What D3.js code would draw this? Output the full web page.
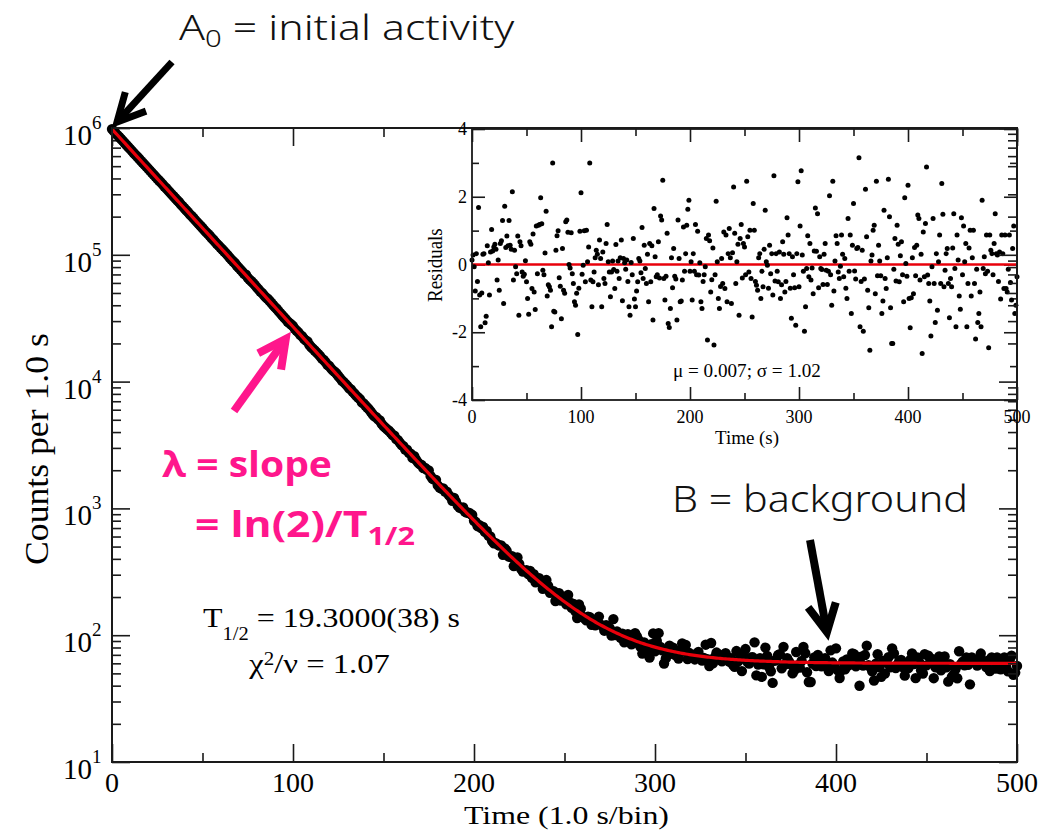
<!DOCTYPE html>
<html><head><meta charset="utf-8">
<script src="https://cdn.jsdelivr.net/npm/d3@7"></script>
<style>body{margin:0;background:#fff}svg{display:block}text{white-space:pre}</style>
</head><body>
<svg id="c" width="1054" height="830"></svg>
<script>
// ---------------- data ----------------
// normalised residuals (data - fit)/sigma, one per 1.0 s bin, t = 0..500
const residuals = [
0.13,0.28,-0.07,-0.78,0.32,-0.5,1.68,-0.9,-1.84,-0.84,
0.3,0.32,-1.72,-1.53,0.55,0.05,-0.9,0.37,1.03,0.4,
0.52,0.6,0.45,-0.46,0.13,-0.76,0.62,0.7,1.3,-1.15,
1.72,0.5,0.84,0.55,1.3,0.57,0.45,2.15,-0.46,0.42,
-0.07,-0.27,0.84,-1.5,0.67,0.55,-0.22,-0.35,-0.29,0.11,
-0.51,-1.0,-1.47,0.67,0.6,-0.71,0.9,-0.81,-1.33,1.14,
-0.27,1.16,1.18,1.97,1.2,-0.17,-0.3,0.34,1.57,-0.93,
-0.6,-0.66,-0.76,-1.84,3.0,-1.38,-1.4,0.42,0.85,1.0,
-0.39,-0.64,-1.6,0.47,-0.76,-0.85,1.26,1.31,0.95,0.0,
-0.1,0.94,-0.27,-0.56,-1.1,-1.2,-0.85,-2.07,-0.7,0.98,
2.12,-0.29,-0.02,1.0,-0.51,1.01,0.08,0.52,3.0,-0.46,
-1.25,-0.51,-0.22,0.2,0.42,0.3,-0.6,0.72,0.18,-1.25,
0.37,-0.41,-0.56,0.62,1.18,0.08,-0.22,-0.95,-0.22,0.1,
-0.15,-0.71,0.59,-0.2,0.1,-0.41,0.2,0.72,-1.07,0.18,
0.05,-0.14,0.13,-0.5,-1.25,-1.5,0.06,-0.3,0.77,-1.02,
-1.25,-0.78,-0.51,0.18,0.1,-0.24,1.09,-0.41,0.57,-0.12,
-0.56,0.3,-1.1,0.62,-0.51,0.55,-1.64,1.65,0.23,-0.36,
-0.3,0.67,-0.4,1.43,1.31,2.49,-0.41,-1.05,-0.35,0.92,
-1.74,-1.86,-1.3,0.2,-0.69,0.47,-0.35,-0.43,-1.64,1.31,
0.18,-1.1,-1.08,-0.46,1.11,-0.2,0.32,1.16,1.63,1.9,
-0.2,0.08,-1.05,0.32,-0.2,1.18,-0.3,0.98,-0.31,0.05,
-1.1,-1.3,-0.5,-0.3,-0.07,0.77,-2.23,0.87,0.7,-0.81,
-0.45,0.49,-2.38,-0.3,1.87,0.08,-1.0,-1.3,-0.65,0.18,
-0.56,0.96,-0.71,0.87,-1.1,0.32,1.06,0.2,-1.15,0.35,
2.29,0.92,-0.56,0.08,0.6,-1.5,0.77,1.18,-0.4,0.62,
0.52,-0.3,2.46,0.82,-0.22,1.01,-0.41,-1.55,1.8,1.01,
-0.5,-0.61,-0.76,0.2,0.32,-1.0,-0.2,-0.66,0.45,1.6,
0.08,-0.02,-0.7,0.57,-0.27,0.32,-0.9,2.62,-0.49,0.32,
-0.2,-0.51,0.37,-1.0,-0.6,0.67,0.3,-0.81,-0.5,1.38,
0.87,0.32,-0.7,-1.59,0.23,-0.3,-0.69,-1.79,0.32,2.44,
-0.66,1.14,2.77,0.28,-0.2,-1.97,-1.25,-0.12,0.85,-0.36,
0.62,-0.46,-0.1,-0.86,0.4,1.67,0.39,1.5,-0.69,0.23,
-0.12,-0.15,-0.59,0.3,0.62,-0.17,-0.59,-0.2,2.03,-0.3,
-1.2,2.46,-0.78,0.1,0.85,0.62,-0.22,-0.41,-0.05,0.87,
0.3,-0.36,0.18,-0.7,-1.0,1.36,-0.2,0.87,-1.45,0.57,
1.8,-0.19,-0.43,0.47,0.5,3.15,-1.84,-0.5,0.42,-1.97,
-0.43,2.22,0.82,-0.76,-1.28,-2.53,0.1,0.28,1.01,1.16,
-0.86,2.46,-0.33,0.57,0.1,-0.33,-1.45,-1.08,1.6,-0.41,
-0.71,0.2,2.52,1.41,-1.28,-2.33,-2.33,-0.14,0.77,-0.49,
1.16,0.6,-0.51,0.26,0.67,-0.3,-1.1,1.97,0.03,-0.35,
2.34,-1.0,-1.87,-0.98,0.2,-0.86,0.5,-0.33,0.57,1.46,
1.36,-0.46,0.3,-2.63,0.96,-0.36,1.21,2.88,-0.31,-0.56,
-1.08,-2.11,-0.07,1.36,-0.56,-1.71,0.32,-1.35,0.08,0.87,
-0.56,2.39,1.48,-0.66,-0.17,0.32,0.47,-0.56,-1.57,-0.41,
-0.66,0.49,1.5,-0.12,-1.84,0.87,0.13,-0.93,-1.32,1.38,
-0.3,1.14,0.08,0.62,-1.84,-0.56,0.49,1.01,-0.93,0.2,
1.01,-0.56,-2.2,-0.14,-1.71,-1.45,-0.81,-1.84,1.9,-0.12,
0.23,-0.27,0.87,-0.2,-2.46,0.87,0.42,0.32,-0.3,0.62,
1.5,0.32,0.28,-0.5,0.37,-1.02,0.87,0.32,-0.71,0.87,
-0.71,-0.81,-0.14,0.87,-0.53,-1.05,0.47,1.14,-1.45,-1.2,-0.36
];
const binTimes = residuals.map((_, i) => i);          // 1.0 s bins
// fit parameters shown on the chart
const fitA0 = 9.8e5;          // initial activity
const fitHalfLife = 19.3;     // s
const fitBackground = 60;     // counts / bin
// axis ticks
const xMajorTicks = [0,100,200,300,400,500];
const xMinorTicks = [50,150,250,350,450];
const yDecadeExponents = [1,2,3,4,5,6];
const yMinorMultipliers = [2,3,4,5,6,7,8,9];
const insetXMajor = [0,100,200,300,400,500];
const insetXMinor = [50,150,250,350,450];
const insetYMajor = [-4,-2,0,2,4];
const insetYMinor = [-3,-1,1,3];

// ---------------- derived series ----------------
const lambda = Math.LN2 / fitHalfLife;
const fitAt = t => fitA0 * Math.exp(-lambda * t) + fitBackground;
const counts = binTimes.map((t, i) => fitAt(t) + residuals[i] * Math.sqrt(fitAt(t)));

// ---------------- scales ----------------
const svg = d3.select('#c');
const serif = '"Liberation Serif","Times New Roman",serif';
const sans = '"Noto Sans",sans-serif';
const x = d3.scaleLinear().domain([0,500]).range([112,1017]);
const y = d3.scaleLog().domain([10,1e6]).range([762,128]);
const xi = d3.scaleLinear().domain([0,500]).range([472,1017]);
const yi = d3.scaleLinear().domain([-4,4]).range([400,129]);
const INK = '#1a1a1a';

const yDecades = yDecadeExponents.map(e => Math.pow(10, e));
const yMinor = [];
yDecadeExponents.slice(0, -1).forEach(e => yMinorMultipliers.forEach(m => yMinor.push(m * Math.pow(10, e))));

function tickAxis(axisFn, scale, values, size, tx, ty) {
  const g = svg.append('g').attr('transform', `translate(${tx},${ty})`)
    .call(axisFn(scale).tickValues(values).tickSize(size).tickFormat(''));
  g.select('.domain').remove();
  g.selectAll('.tick line').attr('stroke', INK).attr('stroke-width', 1.6);
  return g;
}

// main ticks (bottom, top, left)
tickAxis(d3.axisBottom, x, xMajorTicks, -18, 0, 762);
tickAxis(d3.axisBottom, x, xMinorTicks, -9, 0, 762);
tickAxis(d3.axisTop, x, xMajorTicks, -18, 0, 128);
tickAxis(d3.axisTop, x, xMinorTicks, -9, 0, 128);
tickAxis(d3.axisLeft, y, yDecades, -18, 112, 0);
tickAxis(d3.axisLeft, y, yMinor, -9, 112, 0);

// main data
svg.append('g').selectAll('circle').data(binTimes).join('circle')
  .attr('cx', t => x(t)).attr('cy', (t, i) => y(counts[i])).attr('r', 5.2).attr('fill', '#000');
svg.append('path').datum(binTimes)
  .attr('d', d3.line().x(t => x(t)).y(t => y(fitAt(t))))
  .attr('fill', 'none').attr('stroke', '#e8000b').attr('stroke-width', 3.2);

// ---------------- inset ----------------
svg.append('rect').attr('x', xi(0)).attr('y', yi(4)).attr('width', xi(500) - xi(0)).attr('height', yi(-4) - yi(4)).attr('fill', '#fff');
tickAxis(d3.axisBottom, xi, insetXMajor, -13, 0, yi(-4));
tickAxis(d3.axisBottom, xi, insetXMinor, -7, 0, yi(-4));
tickAxis(d3.axisTop, xi, insetXMajor, -13, 0, yi(4));
tickAxis(d3.axisTop, xi, insetXMinor, -7, 0, yi(4));
tickAxis(d3.axisLeft, yi, insetYMajor, -13, xi(0), 0);
tickAxis(d3.axisLeft, yi, insetYMinor, -7, xi(0), 0);
tickAxis(d3.axisRight, yi, insetYMajor, -13, xi(500), 0);
tickAxis(d3.axisRight, yi, insetYMinor, -7, xi(500), 0);
svg.append('path').datum([0, 500])
  .attr('d', d3.line().x(t => xi(t)).y(() => yi(0)))
  .attr('stroke', '#e8000b').attr('stroke-width', 2.6);
svg.append('g').selectAll('circle').data(binTimes).join('circle')
  .attr('cx', t => xi(t)).attr('cy', (t, i) => yi(residuals[i])).attr('r', 2.5).attr('fill', '#000');
svg.append('rect').attr('x', xi(0)).attr('y', yi(4)).attr('width', xi(500) - xi(0)).attr('height', yi(-4) - yi(4))
  .attr('fill', 'none').attr('stroke', INK).attr('stroke-width', 1.8);

// main right ticks and frame on top
tickAxis(d3.axisRight, y, yDecades, -18, 1017, 0);
tickAxis(d3.axisRight, y, yMinor, -9, 1017, 0);
svg.append('rect').attr('x', 112).attr('y', 128).attr('width', 1017 - 112).attr('height', 762 - 128)
  .attr('fill', 'none').attr('stroke', INK).attr('stroke-width', 2);

// ---------------- labels ----------------
svg.append('g').selectAll('text').data(xMajorTicks).join('text')
  .attr('x', d => x(d)).attr('y', 792).attr('text-anchor', 'middle')
  .attr('font-family', serif).attr('font-size', 28).attr('fill', '#000').text(d => d);
const yl = svg.append('g').selectAll('text').data(yDecadeExponents).join('text')
  .attr('x', 63).attr('y', e => y(Math.pow(10, e)) + 17)
  .attr('font-family', serif).attr('fill', '#000');
yl.append('tspan').attr('font-size', 29).text('10');
yl.append('tspan').attr('font-size', 19).attr('dy', -16).text(e => e);

svg.append('g').selectAll('text').data(insetXMajor).join('text')
  .attr('x', d => xi(d)).attr('y', 423).attr('text-anchor', 'middle')
  .attr('font-family', serif).attr('font-size', 18).attr('fill', '#000').text(d => d);
svg.append('g').selectAll('text').data(insetYMajor).join('text')
  .attr('x', 467).attr('y', d => yi(d) + 6).attr('text-anchor', 'end')
  .attr('font-family', serif).attr('font-size', 18).attr('fill', '#000').text(d => d);

// helper: put text so its inked width spans [x0, x0+w] on baseline y0
function fitText(sel, x0, y0, w, rotate) {
  const bb = sel.node().getBBox();
  const s = w / bb.width;
  if (rotate) sel.attr('transform', `translate(${x0},${y0}) rotate(-90) translate(${-bb.x * s},0) scale(${s},1)`);
  else sel.attr('transform', `translate(${x0 - bb.x * s},${y0}) scale(${s},1)`);
}
function addText(font, size, color, weight) {
  return svg.append('text').attr('font-family', font).attr('font-size', size)
    .attr('fill', color).attr('font-weight', weight || 'normal');
}

let t;
t = addText(serif, 26, '#000'); t.text('Time (1.0 s/bin)'); fitText(t, 464, 824, 205);
t = addText(serif, 33, '#000'); t.text('Counts per 1.0 s'); fitText(t, 48, 565, 232, true);
t = addText(serif, 20, '#000'); t.text('Residuals'); fitText(t, 442, 302, 74, true);
t = addText(serif, 18, '#000'); t.text('Time (s)'); fitText(t, 715, 444, 64);
t = addText(serif, 18, '#000'); t.text('\u03bc = 0.007; \u03c3 = 1.02'); fitText(t, 673, 377, 148);

t = addText(serif, 28, '#000');
t.append('tspan').text('T');
t.append('tspan').attr('font-size', 18).attr('dy', 13).text('1/2');
t.append('tspan').attr('dy', -13).text(' = 19.3000(38) s');
fitText(t, 203, 627, 257);

t = addText(serif, 28, '#000');
t.append('tspan').text('\u03c7');
t.append('tspan').attr('font-size', 18).attr('dy', -8).text('2');
t.append('tspan').attr('dy', 8).text('/\u03bd = 1.07');
fitText(t, 248, 673, 142);

// annotations
t = addText(sans, 35, '#111', 300);
t.append('tspan').text('A');
t.append('tspan').attr('font-size', 24).attr('dy', 7).text('0');
t.append('tspan').attr('dy', -7).text(' = initial activity');
fitText(t, 179, 40, 336);

t = addText(sans, 36, '#111', 300); t.text('B = background'); fitText(t, 672, 512, 296);

const PINK = '#ff168c';
t = addText('"Open Sans",sans-serif', 35, PINK, 700); t.text('\u03bb = slope'); fitText(t, 162, 477, 170);
t = addText('"Open Sans",sans-serif', 35, PINK, 700);
t.append('tspan').text('= ln(2)/T');
t.append('tspan').attr('font-size', 25).attr('dy', 8).text('1/2');
fitText(t, 195, 537, 220);

function arrow(tail, tip, color, width) {
  const dx = tail[0] - tip[0], dy = tail[1] - tip[1];
  const L = Math.hypot(dx, dy), ux = dx / L, uy = dy / L;
  const a = 27 * Math.PI / 180, wl = 31;
  const rot = (ang) => [tip[0] + wl * (ux * Math.cos(ang) - uy * Math.sin(ang)),
                        tip[1] + wl * (ux * Math.sin(ang) + uy * Math.cos(ang))];
  const w1 = rot(a), w2 = rot(-a);
  svg.append('path').attr('d', `M${tail[0]},${tail[1]}L${tip[0] + ux * 3},${tip[1] + uy * 3}`)
    .attr('stroke', color).attr('stroke-width', width).attr('fill', 'none');
  svg.append('path').attr('d', `M${w1[0]},${w1[1]}L${tip[0]},${tip[1]}L${w2[0]},${w2[1]}`)
    .attr('stroke', color).attr('stroke-width', width).attr('fill', 'none')
    .attr('stroke-linejoin', 'miter').attr('stroke-miterlimit', 10);
}
arrow([172, 62], [x(0) + 5, y(1e6) - 6], '#000', 7);
arrow([810, 540], [x(395), 632], '#000', 8);
arrow([234, 411], [x(96), 339], PINK, 8);
</script>
</body></html>
